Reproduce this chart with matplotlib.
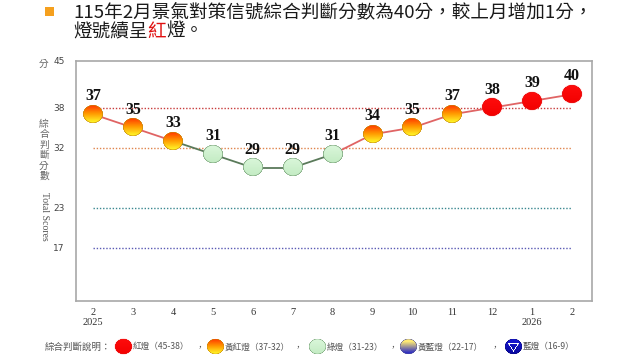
#!/usr/bin/env python3
"""Business cycle signal score chart (Feb 2025 - Feb 2026)."""
import matplotlib
matplotlib.use("Agg")
import matplotlib.pyplot as plt
import numpy as np
from matplotlib.offsetbox import AnnotationBbox, OffsetImage
from matplotlib.patches import Rectangle

months = ["2\n2025", "3", "4", "5", "6", "7", "8", "9", "10", "11", "12", "1\n2026", "2"]
scores = [37, 35, 33, 31, 29, 29, 31, 34, 35, 37, 38, 39, 40]
y_ticks = [45, 38, 32, 23, 17]
ref_levels = [38, 32, 23, 17]
ref_colors = ["#c83c3c", "#e0844c", "#3a8890", "#5a5ab4"]
legend_items = ["紅燈（45-38）", "黃紅燈（37-32）", "綠燈（31-23）", "黃藍燈（22-17）", "藍燈（16-9）"]
legend_kinds = ["red", "yr", "green", "yb", "blue"]

CJK = ["Noto Sans CJK TC", "DejaVu Sans"]
SERIF = ["Liberation Serif", "DejaVu Serif"]
DPI = 100


def light_kind(s):
    if s >= 38:
        return "red"
    if s >= 32:
        return "yr"
    if s >= 23:
        return "green"
    if s >= 17:
        return "yb"
    return "blue"


def mix(c1, c2, t):
    c1, c2 = np.array(c1), np.array(c2)
    return c1[None, None, :] * (1 - t[..., None]) + c2[None, None, :] * t[..., None]


def light_img(kind, w=80, h=70):
    yy, xx = np.mgrid[0:h, 0:w].astype(float)
    nx = (xx - (w - 1) / 2) / (w / 2)
    ny = (yy - (h - 1) / 2) / (h / 2)
    r = np.sqrt(nx ** 2 + ny ** 2)
    t = yy / (h - 1)
    img = np.zeros((h, w, 4))
    edge_w = 0.10
    if kind == "red":
        rgb = mix((1, 0.05, 0.05), (0.95, 0.0, 0.0), t)
        edge = (0.9, 0.1, 0.1)
    elif kind == "yr":
        tt = np.clip((t - 0.05) / 0.85, 0, 1)
        rgb = np.where((tt < 0.5)[..., None],
                       mix((1, 0.22, 0.0), (1, 0.6, 0.0), tt * 2),
                       mix((1, 0.6, 0.0), (1, 0.95, 0.15), (tt - 0.5) * 2))
        edge = (0.78, 0.55, 0.05)
    elif kind == "green":
        rgb = mix((0.86, 0.97, 0.86), (0.76, 0.92, 0.76), t)
        edge = (0.45, 0.62, 0.45)
    elif kind == "yb":
        tt = np.clip((t - 0.2) / 0.65, 0, 1)
        rgb = mix((1, 0.92, 0.45), (0.2, 0.2, 0.75), tt)
        edge = (0.35, 0.35, 0.6)
    else:
        rgb = mix((0.1, 0.1, 0.85), (0.02, 0.02, 0.6), t)
        edge = (0.05, 0.05, 0.5)
    rim = np.clip((r - (0.9 - edge_w)) / edge_w, 0, 1)
    rgb = rgb * (1 - rim[..., None]) + np.array(edge)[None, None, :] * rim[..., None]
    if kind == "blue":
        # white down-pointing triangle outline
        def inside(sc):
            ax_, ay_ = -0.6 * sc, -0.38 * sc
            bx_, by_ = 0.6 * sc, -0.38 * sc
            cx_, cy_ = 0.0, 0.62 * sc
            def side(px, py, qx, qy):
                return (qx - px) * (ny - py) - (qy - py) * (nx - px)
            s1 = side(ax_, ay_, bx_, by_)
            s2 = side(bx_, by_, cx_, cy_)
            s3 = side(cx_, cy_, ax_, ay_)
            return ((s1 >= 0) & (s2 >= 0) & (s3 >= 0)) | ((s1 <= 0) & (s2 <= 0) & (s3 <= 0))
        ring = inside(1.0) & ~inside(0.7)
        rgb[ring] = (1, 1, 1)
    img[..., :3] = rgb
    img[..., 3] = np.clip((0.93 - r) * 25, 0, 1)
    if kind == "red":
        halo = np.clip((1.0 - r) / 0.1, 0, 1) * 0.35 * (r > 0.9)
        img[..., :3] = np.where((r > 0.9)[..., None], np.array([1, 0.45, 0.45]), img[..., :3])
        img[..., 3] = np.maximum(img[..., 3], halo)
    return img


def place_light(ax_or_fig, kind, xy, coords, width_px, height_px, zorder=5):
    img = light_img(kind)
    zoom = width_px / img.shape[1] * 72 / DPI
    im = OffsetImage(img, zoom=zoom, interpolation="antialiased")
    ab = AnnotationBbox(im, xy, xycoords=coords, frameon=False,
                        box_alignment=(0.5, 0.5), pad=0, zorder=zorder)
    ax_or_fig.add_artist(ab)


def main():
    fig = plt.figure(figsize=(6.4, 3.6), dpi=DPI)
    W, H = 640, 360
    ax = fig.add_axes([76 / W, 1 - 301 / H, (592 - 76) / W, (301 - 61) / H])

    x = np.arange(len(scores))
    kinds = [light_kind(s) for s in scores]

    for lvl, col in zip(ref_levels, ref_colors):
        ax.plot([x[0], x[-1]], [lvl, lvl], linestyle=(0, (1, 1.3)), color=col, lw=1.0, zorder=1)

    for i in range(1, len(scores)):
        col = "#5a7a5a" if kinds[i] == "green" else "#e06464"
        ax.plot(x[i - 1:i + 1], scores[i - 1:i + 1], color=col, lw=1.3, zorder=2)

    for xi, s, k in zip(x, scores, kinds):
        place_light(ax, k, (xi, s), "data", 22, 19)
        ax.annotate(str(s), (xi, s), xytext=(0, 13), textcoords="offset points",
                    ha="center", va="center", fontsize=11.5, fontweight="bold",
                    family=SERIF, color="#111111", zorder=6)

    ax.set_xlim(-0.43, 12.5)
    ax.set_ylim(9, 45)
    ax.set_xticks(x)
    ax.set_xticklabels(months, family=SERIF, fontsize=7.5, color="#333333", linespacing=1.1)
    ax.set_yticks(y_ticks)
    ax.set_yticklabels([str(v) for v in y_ticks], fontsize=6.5, color="#444444")
    ax.tick_params(length=0, axis="y", pad=8)
    ax.tick_params(length=0, axis="x", pad=5)
    for sp in ax.spines.values():
        sp.set_color("#a8a8a8")
        sp.set_linewidth(1.2)

    # y-axis labels
    fig.text(44 / W, 1 - 64 / H, "分", family=CJK, fontsize=7, color="#666666",
             ha="center", va="center")
    fig.text(44 / W, 1 - 150 / H, "\n".join("綜合判斷分數"), family=CJK, fontsize=7,
             color="#666666", ha="center", va="center", linespacing=1.05)
    fig.text(44 / W, 1 - 216 / H, "Total Scores", family=SERIF, fontsize=7,
             color="#555555", ha="center", va="center", rotation=270)

    # title
    fig.patches.append(Rectangle((45 / W, 1 - 16 / H), 9 / W, 9 / H, transform=fig.transFigure,
                                 facecolor="#f5a01e", edgecolor="none"))
    fig.text(73 / W, 1 - 12 / H, "115年2月景氣對策信號綜合判斷分數為40分，較上月增加1分，",
             family=CJK, fontsize=13.4, color="#1a1a1a", ha="left", va="center")
    renderer = fig.canvas.get_renderer()
    xpos = 73 / W
    for part, col in [("燈號續呈", "#1a1a1a"), ("紅", "#e01010"), ("燈。", "#1a1a1a")]:
        t = fig.text(xpos, 1 - 32 / H, part, family=CJK, fontsize=13.4, color=col,
                     ha="left", va="center")
        xpos = t.get_window_extent(renderer).x1 / W

    # legend
    ly = 1 - 347 / H
    lsize = 6.2
    fig.text(45 / W, ly, "綜合判斷說明：", family=CJK, fontsize=6.8, color="#555555",
             ha="left", va="center")
    icon_x = [123, 215, 317, 408, 513]
    comma_x = [200, 298, 393, 495]
    for i, (lab, k, ix) in enumerate(zip(legend_items, legend_kinds, icon_x)):
        place_light(fig, k, (ix, 13), "figure pixels", 19, 16)
        fig.text((ix + 10) / W, ly, lab, family=CJK, fontsize=lsize, color="#555555",
                 ha="left", va="center")
        if i < len(comma_x):
            fig.text(comma_x[i] / W, ly, "，", family=CJK, fontsize=lsize, color="#555555",
                     ha="center", va="center")

    fig.savefig("out.png", dpi=DPI, facecolor="white")


if __name__ == "__main__":
    main()
